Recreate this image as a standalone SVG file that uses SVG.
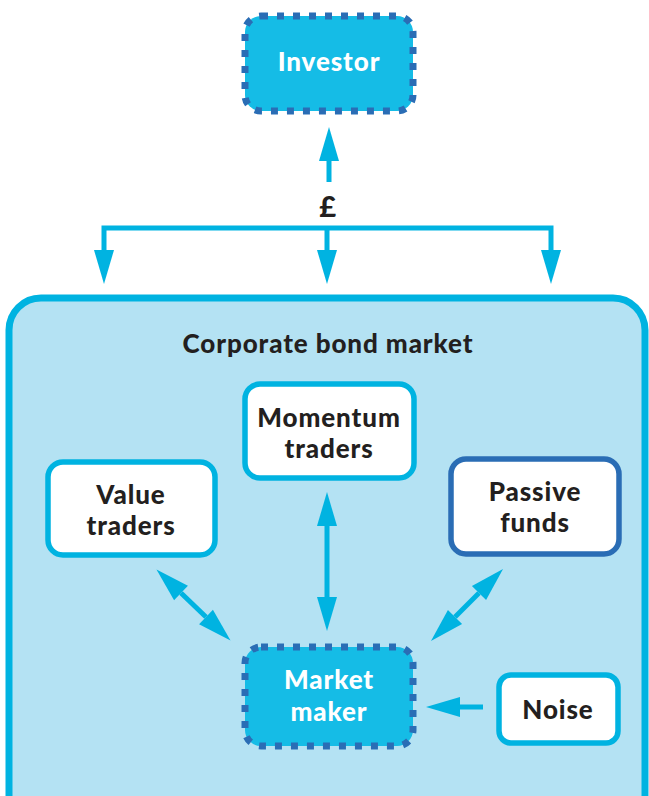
<svg xmlns="http://www.w3.org/2000/svg" width="649" height="796" viewBox="0 0 649 796">
<defs>
<marker id="ah" markerUnits="userSpaceOnUse" markerWidth="40" markerHeight="24" refX="0" refY="10" orient="auto-start-reverse" overflow="visible">
<path d="M0,0 L34,10 L0,20 z" fill="#00B3E1"/>
</marker>
</defs>
<style>
text{font-family:Lato,"Open Sans","Liberation Sans",sans-serif;font-weight:900;text-anchor:middle;letter-spacing:0.9px}
.dark{fill:#231F20;font-size:26px}
.light{fill:#ffffff;font-size:26px}
.box{fill:#ffffff;stroke:#00B3E1;stroke-width:5.5}
.pbox{fill:#ffffff;stroke:#2A6DB5;stroke-width:5.5}
.dot{fill:#15BCE6;stroke:#2A6DB5;stroke-width:7;stroke-dasharray:7 9}
.conn{fill:none;stroke:#00B3E1;stroke-width:5}
</style>
<rect width="649" height="796" fill="#ffffff"/>
<g id="market">
<rect x="9" y="298" width="636" height="530" rx="32" fill="#B4E2F3" stroke="#00B3E1" stroke-width="7"/>
<text x="328" y="353" class="dark">Corporate bond market</text>
</g>
<g id="investor">
<rect x="245" y="16" width="168" height="95" rx="16" class="dot"/>
<text x="329" y="71" class="light">Investor</text>
</g>
<g id="momentum">
<rect x="245" y="384" width="169" height="94" rx="15" class="box"/>
<text x="329" y="427" class="dark">Momentum</text>
<text x="329" y="458" class="dark">traders</text>
</g>
<g id="value">
<rect x="48" y="462" width="167" height="93" rx="15" class="box"/>
<text x="131" y="504" class="dark">Value</text>
<text x="131" y="535" class="dark">traders</text>
</g>
<g id="passive">
<rect x="451" y="459" width="168" height="95" rx="15" class="pbox"/>
<text x="535" y="501" class="dark">Passive</text>
<text x="535" y="532" class="dark">funds</text>
</g>
<g id="noise">
<rect x="499" y="675" width="119" height="68" rx="12" class="box"/>
<text x="558" y="719" class="dark">Noise</text>
</g>
<g id="marketmaker">
<rect x="245" y="647" width="168" height="99" rx="16" class="dot"/>
<text x="329" y="689" class="light">Market</text>
<text x="329" y="721" class="light">maker</text>
</g>
<g id="connectors">
<path d="M329,182 V161" class="conn" marker-end="url(#ah)"/>
<path d="M104,250 V228 H551 V250" class="conn" marker-start="url(#ah)" marker-end="url(#ah)"/>
<path d="M327,228 V250" class="conn" marker-end="url(#ah)"/>
<path d="M327,526 V597" class="conn" marker-start="url(#ah)" marker-end="url(#ah)"/>
<path d="M181,593 L206,617" class="conn" marker-start="url(#ah)" marker-end="url(#ah)"/>
<path d="M479,593 L455,617" class="conn" marker-start="url(#ah)" marker-end="url(#ah)"/>
<path d="M483,707 H460" class="conn" marker-end="url(#ah)"/>
<text x="328" y="217" class="dark" style="font-size:29px">£</text>
</g>
</svg>
